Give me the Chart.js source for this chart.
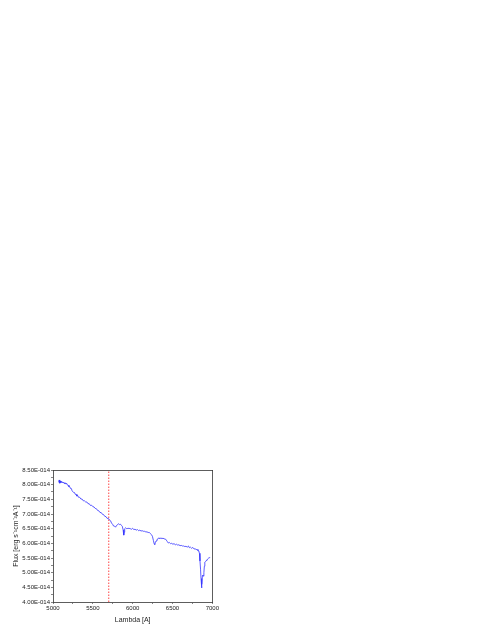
<!DOCTYPE html>
<html>
<head>
<meta charset="utf-8">
<script src="https://cdn.jsdelivr.net/npm/chart.js@4"></script>
<style>
  body { margin: 0; background: #fff; }
  #wrap { position: absolute; left: 10px; top: 462px; width: 210px; height: 162px; }
</style>
</head>
<body>
<div id="wrap"><canvas id="spectrum"></canvas></div>
<script>
// wavelength in Angstrom, flux in units of 1e-14 erg s-1 cm-2 A-1
const lambda = [
    5070, 5078, 5085, 5092, 5100, 5110, 5120, 5130, 5140, 5150, 5160, 5170, 5180, 5190, 5200,
    5210, 5220, 5230, 5240, 5250, 5260, 5270, 5280, 5290, 5300, 5310, 5320, 5335, 5350, 5365,
    5380, 5395, 5410, 5425, 5440, 5455, 5470, 5485, 5500, 5515, 5530, 5545, 5560, 5575, 5590,
    5605, 5620, 5635, 5650, 5665, 5680, 5695, 5710, 5722, 5735, 5748, 5760, 5772, 5785, 5798,
    5810, 5822, 5835, 5848, 5860, 5870, 5880, 5888, 5894, 5900, 5912, 5925, 5940, 5955, 5970,
    5985, 6000, 6015, 6030, 6045, 6060, 6075, 6090, 6105, 6120, 6135, 6150, 6165, 6180, 6195,
    6210, 6222, 6235, 6248, 6260, 6270, 6278, 6286, 6295, 6305, 6318, 6330, 6342, 6355, 6368,
    6380, 6395, 6410, 6422, 6435, 6448, 6460, 6475, 6490, 6505, 6520, 6535, 6550, 6565, 6580,
    6595, 6610, 6625, 6640, 6655, 6670, 6685, 6700, 6712, 6725, 6740, 6755, 6770, 6785, 6798,
    6810, 6820, 6830, 6838, 6845, 6852, 6858, 6864, 6870, 6876, 6882, 6888, 6894, 6900, 6906,
    6914, 6922, 6932, 6942, 6950, 6960, 6970
];
const flux = [
    8.08, 8.16, 8.05, 8.12, 8.07, 8.11, 8.06, 8.09, 8.04, 8.07, 8.02, 8.05, 7.99, 7.98, 7.93,
    7.93, 7.87, 7.87, 7.79, 7.79, 7.73, 7.73, 7.67, 7.67, 7.61, 7.63, 7.57, 7.57, 7.51, 7.51,
    7.45, 7.45, 7.41, 7.41, 7.35, 7.35, 7.29, 7.30, 7.25, 7.24, 7.19, 7.18, 7.12, 7.11, 7.05,
    7.05, 6.99, 6.98, 6.92, 6.91, 6.85, 6.85, 6.79, 6.77, 6.69, 6.65, 6.59, 6.59, 6.55, 6.61,
    6.63, 6.67, 6.64, 6.65, 6.61, 6.58, 6.46, 6.28, 6.38, 6.50, 6.53, 6.50, 6.51, 6.51, 6.50,
    6.48, 6.51, 6.47, 6.48, 6.45, 6.47, 6.43, 6.45, 6.42, 6.43, 6.41, 6.41, 6.39, 6.39, 6.37,
    6.37, 6.33, 6.30, 6.24, 6.10, 5.98, 5.96, 6.04, 6.08, 6.13, 6.15, 6.19, 6.15, 6.19, 6.15,
    6.18, 6.15, 6.15, 6.11, 6.06, 6.01, 6.03, 5.99, 6.00, 5.97, 5.99, 5.95, 5.97, 5.94, 5.95,
    5.92, 5.93, 5.91, 5.91, 5.89, 5.90, 5.87, 5.91, 5.85, 5.87, 5.83, 5.86, 5.81, 5.81, 5.79,
    5.79, 5.75, 5.74, 5.66, 5.40, 5.12, 4.80, 4.48, 4.60, 4.90, 4.92, 4.88, 5.00, 5.22, 5.36,
    5.38, 5.41, 5.43, 5.47, 5.49, 5.51, 5.52
];
const markerLambda = 5700;
const xRange = [5000, 7000];
const yRange = [4.0, 8.5];

const tickFont = { family: 'Liberation Sans', size: 6 };
const titleFont = { family: 'Liberation Sans', size: 7 };
const axisColor = '#333';

new Chart(document.getElementById('spectrum'), {
    type: 'line',
    data: {
        datasets: [
            {
                data: lambda.map((x, i) => ({ x, y: flux[i] })),
                borderColor: 'rgb(50,50,255)',
                borderWidth: 0.8,
                pointRadius: 0,
                tension: 0,
            },
            {
                data: [{ x: markerLambda, y: yRange[0] }, { x: markerLambda, y: yRange[1] }],
                borderColor: 'rgb(255,70,70)',
                borderWidth: 1,
                borderDash: [1.5, 1.5],
                pointRadius: 0,
            },
        ]
    },
    options: {
        responsive: true,
        maintainAspectRatio: false,
        animation: false,
        layout: { padding: { top: 8, right: 6 } },
        plugins: { legend: { display: false }, tooltip: { enabled: false } },
        scales: {
            x: {
                type: 'linear',
                min: xRange[0], max: xRange[1],
                afterFit: s => { s.height = 22; },
                ticks: {
                    stepSize: 250, autoSkip: false, maxRotation: 0, padding: 1,
                    font: tickFont, color: '#222',
                    callback: v => v % 500 === 0 ? v : '',
                },
                grid: { drawOnChartArea: false, tickLength: 2, color: axisColor, lineWidth: 0.6 },
                border: { color: axisColor, width: 0.8 },
                title: { display: true, text: 'Lambda [A]', font: titleFont, color: '#222', padding: 0 },
            },
            xTop: {
                type: 'linear', position: 'top',
                min: xRange[0], max: xRange[1],
                afterFit: s => { s.height = 0; },
                ticks: { display: false },
                grid: { display: false },
                border: { color: axisColor, width: 0.8 },
            },
            y: {
                min: yRange[0], max: yRange[1],
                afterFit: s => { s.width = 43; },
                ticks: {
                    stepSize: 0.25, autoSkip: false, padding: 1,
                    font: tickFont, color: '#222',
                    callback: v => (Math.round(v * 100) % 50 === 0) ? v.toFixed(2) + 'E-014' : '',
                },
                grid: { drawOnChartArea: false, tickLength: 2, color: axisColor, lineWidth: 0.6 },
                border: { color: axisColor, width: 0.8 },
                title: { display: true, text: 'Flux [erg s\u207B\u00B9cm\u207B\u00B2A\u207B\u00B9]', font: titleFont, color: '#222', padding: 2 },
            },
            yRight: {
                position: 'right',
                min: yRange[0], max: yRange[1],
                afterFit: s => { s.width = 0; },
                ticks: { display: false },
                grid: { display: false },
                border: { color: axisColor, width: 0.8 },
            },
        }
    }
});
</script>
</body>
</html>
